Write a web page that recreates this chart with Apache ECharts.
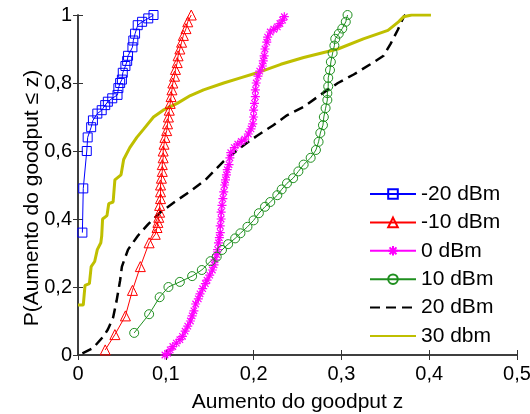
<!DOCTYPE html>
<html lang="pt">
<head>
  <meta charset="UTF-8">
  <title>CDF aumento do goodput</title>
  <script src="https://cdn.jsdelivr.net/npm/echarts@6/dist/echarts.min.js"></script>
  <style>
    html, body { margin: 0; padding: 0; background: #fff; }
  </style>
</head>
<body>

<div id="chart" style="width: 530px; height: 414px;"></div>

<script>
  // nomes das curvas (legenda)
  var seriesNames = ['-20 dBm', '-10 dBm', '0 dBm', '10 dBm', '20 dBm', '30 dbm'];
  var xTicks = [0, 0.1, 0.2, 0.3, 0.4, 0.5];
  var yTicks = [0, 0.2, 0.4, 0.6, 0.8, 1];

  // pontos [aumento do goodput, P]
  var m20dBm = [[0.005,0.36],[0.006,0.49],[0.010,0.60],[0.011,0.64],[0.015,0.67],[0.017,0.69],
    [0.022,0.71],[0.027,0.72],[0.031,0.735],[0.034,0.745],[0.039,0.755],[0.045,0.765],[0.046,0.785],
    [0.048,0.80],[0.050,0.81],[0.051,0.83],[0.054,0.85],[0.056,0.865],[0.057,0.88],[0.062,0.905],
    [0.063,0.925],[0.065,0.945],[0.068,0.97],[0.073,0.98],[0.080,0.99],[0.086,1.0]];

  var m10dBm = [[0.031,0.015],[0.042,0.06],[0.054,0.115],[0.062,0.19],[0.071,0.26],[0.081,0.33],
    [0.088,0.355],[0.090,0.375],[0.091,0.39],[0.092,0.405],[0.093,0.42],[0.093,0.44],[0.094,0.46],
    [0.094,0.48],[0.094,0.50],[0.095,0.52],[0.096,0.54],[0.096,0.56],[0.097,0.58],[0.097,0.60],
    [0.098,0.62],[0.099,0.64],[0.101,0.66],[0.102,0.68],[0.103,0.70],[0.104,0.72],[0.105,0.74],
    [0.106,0.76],[0.107,0.78],[0.108,0.80],[0.110,0.82],[0.111,0.84],[0.113,0.86],[0.114,0.88],
    [0.116,0.90],[0.118,0.92],[0.120,0.94],[0.123,0.96],[0.125,0.98],[0.129,1.0]];

  var p0dBm = [[0.099,0.0],[0.102,0.005],[0.105,0.015],[0.108,0.025],[0.112,0.035],[0.116,0.045],
    [0.119,0.055],[0.122,0.07],[0.125,0.085],[0.128,0.10],[0.130,0.115],[0.132,0.13],[0.134,0.15],
    [0.137,0.165],[0.139,0.18],[0.142,0.195],[0.145,0.21],[0.147,0.22],[0.150,0.235],[0.153,0.25],
    [0.155,0.265],[0.156,0.28],[0.158,0.295],[0.159,0.31],[0.160,0.33],[0.161,0.345],[0.162,0.36],
    [0.162,0.38],[0.163,0.40],[0.163,0.42],[0.164,0.44],[0.165,0.46],[0.166,0.48],[0.167,0.50],
    [0.168,0.515],[0.169,0.53],[0.170,0.545],[0.172,0.56],[0.173,0.58],[0.174,0.595],[0.178,0.61],
    [0.182,0.62],[0.186,0.628],[0.190,0.635],[0.194,0.65],[0.197,0.665],[0.199,0.68],[0.200,0.70],
    [0.200,0.72],[0.201,0.74],[0.202,0.76],[0.202,0.78],[0.203,0.80],[0.205,0.82],[0.207,0.835],
    [0.210,0.85],[0.211,0.865],[0.212,0.88],[0.213,0.90],[0.215,0.92],[0.216,0.935],[0.219,0.95],
    [0.223,0.958],[0.227,0.965],[0.230,0.975],[0.233,0.985],[0.235,0.995]];

  var p10dBm = [[0.064,0.065],[0.081,0.12],[0.093,0.17],[0.103,0.20],[0.116,0.215],[0.130,0.232],
    [0.141,0.25],[0.151,0.276],[0.158,0.289],[0.164,0.309],[0.171,0.326],[0.179,0.343],[0.185,0.358],
    [0.193,0.377],[0.200,0.396],[0.206,0.417],[0.213,0.436],[0.219,0.45],[0.227,0.47],[0.232,0.487],
    [0.238,0.505],[0.245,0.52],[0.251,0.54],[0.257,0.56],[0.265,0.58],[0.271,0.603],[0.274,0.627],
    [0.276,0.653],[0.279,0.676],[0.280,0.70],[0.282,0.726],[0.284,0.75],[0.284,0.77],[0.285,0.79],
    [0.285,0.815],[0.287,0.838],[0.288,0.862],[0.290,0.888],[0.292,0.91],[0.293,0.93],[0.297,0.945],
    [0.301,0.96],[0.305,0.98],[0.307,1.0]];

  var p20dBm = [[0.005,0.005],[0.017,0.02],[0.029,0.055],[0.034,0.075],[0.040,0.11],[0.044,0.16],
    [0.048,0.22],[0.050,0.26],[0.057,0.31],[0.068,0.35],[0.080,0.385],[0.094,0.42],[0.110,0.45],
    [0.127,0.48],[0.145,0.515],[0.166,0.57],[0.185,0.61],[0.204,0.645],[0.222,0.675],[0.238,0.705],
    [0.257,0.73],[0.276,0.765],[0.296,0.80],[0.314,0.825],[0.333,0.855],[0.348,0.88],[0.356,0.915],
    [0.364,0.955],[0.371,0.995],[0.373,1.0]];

  var p30dBm = [[0.0,0.147],[0.006,0.147],[0.008,0.205],[0.013,0.21],[0.015,0.26],[0.019,0.275],
    [0.022,0.31],[0.026,0.33],[0.027,0.35],[0.028,0.40],[0.033,0.41],[0.035,0.445],[0.040,0.45],
    [0.042,0.515],[0.049,0.53],[0.050,0.545],[0.052,0.575],[0.059,0.61],[0.067,0.64],[0.075,0.665],
    [0.086,0.70],[0.097,0.72],[0.113,0.74],[0.128,0.763],[0.143,0.78],[0.166,0.80],[0.185,0.815],
    [0.204,0.83],[0.231,0.855],[0.257,0.875],[0.296,0.90],[0.325,0.93],[0.353,0.955],[0.365,0.98],
    [0.371,0.995],[0.380,1.0],[0.402,1.0]];

  var fonte = '"Liberation Sans", Arial, sans-serif';
  var asterisco = 'path://M0,-1L0,1M-1,0L1,0M-0.72,-0.72L0.72,0.72M-0.72,0.72L0.72,-0.72';
  var invisivel = 'rgba(0,0,0,0)';

  function virgula(v) {
    return String(Number(v.toFixed(1))).replace('.', ',');
  }

  function curva(nome, dados, cor, simbolo, tam, extra) {
    var s = {
      name: nome,
      type: 'line',
      data: dados,
      symbol: simbolo,
      symbolSize: tam,
      showSymbol: simbolo !== 'none',
      showAllSymbol: true,
      lineStyle: { color: cor, width: 1 },
      itemStyle: { color: invisivel, borderColor: cor, borderWidth: 1 }
    };
    if (extra) {
      for (var k in extra) s[k] = extra[k];
    }
    return s;
  }

  var myChart = echarts.init(document.getElementById('chart'));

  var eixoX = {
    min: xTicks[0], max: xTicks[xTicks.length - 1], interval: 0.1,
    axisLine: { lineStyle: { color: '#333', width: 1.5 } },
    axisTick: { inside: true, length: 5, lineStyle: { color: '#333' } },
    splitLine: { show: false }
  };
  var eixoY = {
    min: yTicks[0], max: yTicks[yTicks.length - 1], interval: 0.2,
    axisLine: { lineStyle: { color: '#333', width: 1.5 } },
    axisTick: { inside: true, length: 5, lineStyle: { color: '#333' } },
    splitLine: { show: false }
  };

  var option = {
    animation: false,
    backgroundColor: '#fff',
    textStyle: { fontFamily: fonte, color: '#000' },
    grid: { left: 78, right: 13, top: 15, bottom: 59, outerBoundsMode: 'none', containLabel: false },
    xAxis: [
      Object.assign({}, eixoX, {
        type: 'value', position: 'bottom',
        name: 'Aumento do goodput z', nameLocation: 'middle', nameGap: 37, nameMoveOverlap: false,
        nameTextStyle: { fontSize: 21, color: '#000', fontFamily: fonte },
        axisLabel: { margin: 9, fontSize: 20, color: '#000', fontFamily: fonte, formatter: virgula }
      }),
      Object.assign({}, eixoX, {
        type: 'value', position: 'top', axisLabel: { show: false }
      })
    ],
    yAxis: [
      Object.assign({}, eixoY, {
        type: 'value', position: 'left',
        name: 'P(Aumento do goodput \u2264 z)', nameLocation: 'middle', nameGap: 35, nameMoveOverlap: false,
        nameTextStyle: { fontSize: 21, color: '#000', fontFamily: fonte, padding: [0, 26, 0, 0] },
        axisLabel: { margin: 6, fontSize: 20, color: '#000', fontFamily: fonte, formatter: virgula }
      }),
      Object.assign({}, eixoY, {
        type: 'value', position: 'right', axisLabel: { show: false }
      })
    ],
    legend: {
      orient: 'vertical',
      left: 364,
      top: 178,
      itemWidth: 46,
      itemHeight: 12,
      itemGap: 6.4,
      data: seriesNames,
      textStyle: { fontSize: 21, lineHeight: 22, color: '#000', fontFamily: fonte }
    },
    series: [
      curva(seriesNames[0], m20dBm, '#0000ff', 'rect', 9),
      curva(seriesNames[1], m10dBm, '#ff0000', 'triangle', 10),
      curva(seriesNames[2], p0dBm, '#ff00ff', asterisco, 9,
        { itemStyle: { color: '#ff00ff', borderColor: '#ff00ff', borderWidth: 1.2 } }),
      curva(seriesNames[3], p10dBm, '#1f8f1f', 'circle', 9),
      curva(seriesNames[4], p20dBm, '#000000', 'none', 0,
        { lineStyle: { color: '#000', width: 2.5, type: [10, 6] },
          itemStyle: { color: invisivel, borderColor: invisivel } }),
      curva(seriesNames[5], p30dBm, '#bfbf00', 'none', 0,
        { lineStyle: { color: '#bfbf00', width: 3 },
          itemStyle: { color: invisivel, borderColor: invisivel } })
    ]
  };

  myChart.setOption(option);
</script>

</body>
</html>
